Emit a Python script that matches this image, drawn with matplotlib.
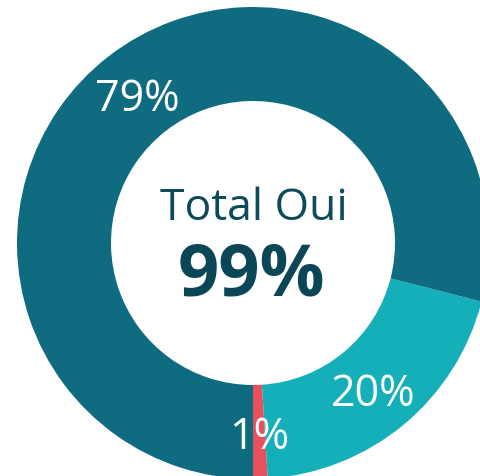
import matplotlib
import matplotlib.pyplot as plt

matplotlib.use('Agg')

# slice values, drawn counter-clockwise from the bottom
labels = ["Non", "Oui partiel", "Oui"]
values = [1, 20, 79]
colors = ["#e8515b", "#14afb8", "#0f6b80"]

center_title = "Total Oui"
center_value = "99%"

plt.rcParams['font.family'] = ['Open Sans', 'DejaVu Sans']

fig = plt.figure(figsize=(4.8, 4.76), dpi=100)
ax = fig.add_axes([0, 0, 1, 1])

radius = 236
hole = 142
cx, cy = 253, 476 - 243

wedges, texts, autotexts = ax.pie(
    values,
    colors=colors,
    startangle=270,
    counterclock=True,
    radius=radius,
    center=(cx, cy),
    autopct='%1.0f%%',
    pctdistance=0.80,
    wedgeprops=dict(width=radius - hole, linewidth=0),
    textprops=dict(color='white', fontsize=31),
    frame=True,
)
# labels sit a little lower in the original
for t in autotexts:
    x, y = t.get_position()
    t.set_position((x, y - 6))

ax.set_xlim(0, 480)
ax.set_ylim(0, 476)
ax.set_aspect('equal')
ax.axis('off')

ax.text(cx + 1, cy + 34, center_title, ha='center', va='center',
        fontsize=32, color='#0d4a5b')
ax.text(cx - 2, cy - 34, center_value, ha='center', va='center',
        fontsize=52, fontweight='bold', color='#0b4656')

plt.savefig('out.png', dpi=100)
plt.close()
